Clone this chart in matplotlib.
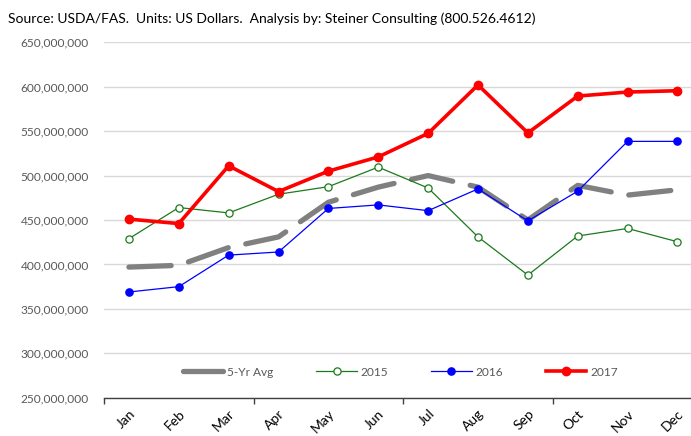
import matplotlib.pyplot as plt
from matplotlib.ticker import FuncFormatter, FixedLocator

plt.rcParams['font.family'] = ['Lato', 'DejaVu Sans']

months = ['Jan', 'Feb', 'Mar', 'Apr', 'May', 'Jun',
          'Jul', 'Aug', 'Sep', 'Oct', 'Nov', 'Dec']

# monthly values, US dollars
avg5 = [397e6, 399e6, 419e6, 431e6, 470e6, 487e6,
        500e6, 487e6, 450e6, 489e6, 478e6, 484e6]
y2015 = [429e6, 464e6, 458e6, 479e6, 487.5e6, 509.5e6,
         486e6, 431e6, 388e6, 432e6, 440.5e6, 425.5e6]
y2016 = [369e6, 375e6, 410.5e6, 414e6, 463e6, 467e6,
         460.5e6, 485e6, 449e6, 482.5e6, 538.5e6, 538.5e6]
y2017 = [451e6, 446e6, 511e6, 482e6, 505e6, 521e6,
         547.5e6, 602e6, 548e6, 589.5e6, 594e6, 595.5e6]

fig = plt.figure(figsize=(6.91, 4.36), dpi=100)
ax = fig.add_axes([0.1505, 0.0878, 0.866, 0.8152])

x = list(range(len(months)))

ax.plot(x, avg5, color='#808080', lw=3.8, dashes=(8, 3.4),
        dash_capstyle='round', solid_capstyle='round', label='5-Yr Avg', zorder=2)
ax.plot(x, y2015, color='#1b7a1b', lw=0.9, marker='o', ms=5.2,
        mfc='white', mec='#1b7a1b', mew=0.9, label='2015', zorder=3)
ax.plot(x, y2016, color='#0000ff', lw=0.9, marker='o', ms=5.2,
        mfc='#0000ff', mec='#0000ff', label='2016', zorder=4)
ax.plot(x, y2017, color='#ff0000', lw=2.6, marker='o', ms=6,
        mfc='#ff0000', mec='#ff0000', label='2017', zorder=5)

ax.set_xlim(-0.5, 11.5)
ax.set_ylim(250e6, 650e6)
ax.set_yticks([250e6 + 50e6 * i for i in range(9)])
ax.yaxis.set_major_formatter(FuncFormatter(lambda v, p: f'{v:,.0f}'))
ax.tick_params(axis='y', length=0, pad=11, labelsize=8.6, labelcolor='#595959')
ax.grid(axis='y', color='#d9d9d9', lw=1)
ax.set_axisbelow(True)

# month labels sit between the quarter tick marks
ax.xaxis.set_major_locator(FixedLocator([-0.5, 2.5, 5.5, 8.5, 11.5]))
ax.xaxis.set_minor_locator(FixedLocator(x))
ax.set_xticklabels([], minor=False)
ax.set_xticklabels(months, minor=True, rotation=45, ha='right', va='top',
                   rotation_mode='anchor', fontsize=10, color='black')
ax.tick_params(axis='x', which='major', length=4, width=1, color='#404040')
ax.tick_params(axis='x', which='minor', length=0, pad=7)

for s in ['left', 'right', 'top']:
    ax.spines[s].set_visible(False)
ax.spines['bottom'].set_color('#404040')
ax.spines['bottom'].set_linewidth(1)

ax.legend(loc='center', bbox_to_anchor=(0.495, 0.072), ncol=4, frameon=False,
          fontsize=8.6, labelcolor='#595959', handlelength=3.4,
          handletextpad=0.3, columnspacing=3.6)

fig.text(0.012, 0.958, 'Source: USDA/FAS.  Units: US Dollars.  Analysis by: Steiner Consulting (800.526.4612)',
         fontsize=10, color='black', va='center', ha='left')

fig.savefig('out.png', dpi=100)
